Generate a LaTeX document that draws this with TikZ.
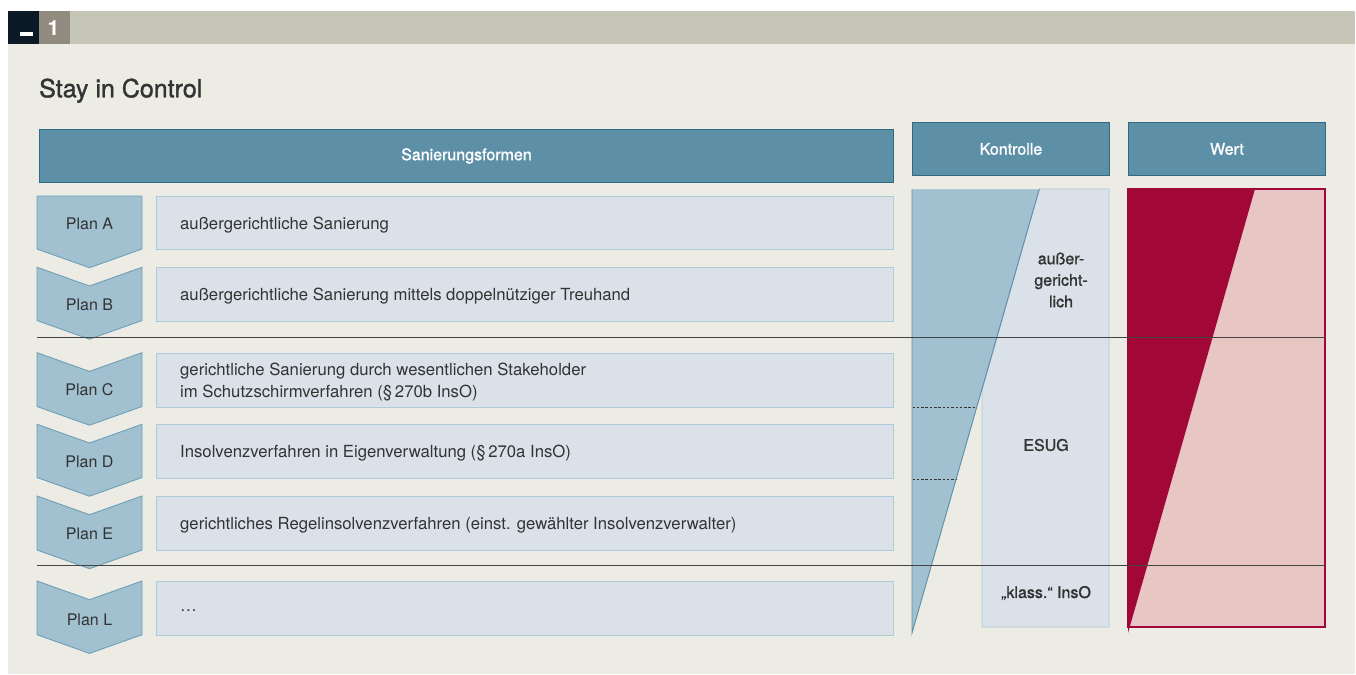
\documentclass[tikz,border=0pt]{standalone}
\usepackage{fontspec}
\setmainfont{TeX Gyre Heros}
\newfontfamily\medfont[FakeBold=1.3]{TeX Gyre Heros}
\definecolor{pagebg}{HTML}{ECEBE4}
\definecolor{topbar}{HTML}{C5C5B8}
\definecolor{navy}{HTML}{0C1A27}
\definecolor{numgray}{HTML}{918A7F}
\definecolor{headfill}{HTML}{5D90A7}
\definecolor{headline}{HTML}{2F6A84}
\definecolor{boxfill}{HTML}{DAE1E8}
\definecolor{boxline}{HTML}{AFCAD8}
\definecolor{chevfill}{HTML}{A1C1D1}
\definecolor{chevline}{HTML}{6F9FB7}
\definecolor{trifill}{HTML}{A1C1D1}
\definecolor{triline}{HTML}{5A8FA8}
\definecolor{crimson}{HTML}{A10838}
\definecolor{pinkfill}{HTML}{E8C6C3}
\definecolor{txt}{HTML}{333333}
\definecolor{sep}{HTML}{444444}
\tikzset{
  headbox/.style={draw=headline, fill=headfill, line width=0.9pt, inner sep=0pt,
    text=white, font=\medfont\fontsize{16}{18}\selectfont},
  rowbox/.style={draw=boxline, fill=boxfill, line width=0.9pt, inner sep=0pt,
    minimum width=737pt, anchor=north west},
  chevstyle/.style={draw=chevline, fill=chevfill, line width=0.9pt},
  planlabel/.style={text=txt, font=\fontsize{16}{18}\selectfont, inner sep=0pt},
  rowtext/.style={text=txt, font=\fontsize{16.7}{21.7}\selectfont, align=left,
    inner sep=0pt, anchor=west, xshift=24pt, yshift=-2pt},
  sidetext/.style={text=txt, font=\medfont\fontsize{16}{21.5}\selectfont,
    align=center, inner sep=0pt},
  sepline/.style={draw=sep, line width=1.2pt},
  dotline/.style={draw=txt, line width=0.9pt, dash pattern=on 2.5pt off 1.8pt},
}
% one row: letter, top, bottom, notch depth, label y, description
\newcommand\planrow[6]{%
  \path[chevstyle] (37,#2) -- (89.5,{#2+#4}) -- (142,#2) -- (142,#3)
    -- (89.5,{#3+18.7}) -- (37,#3) -- cycle;
  \node[planlabel] (plan#1) at (89.5,#5) {Plan #1};
  \node[rowbox, minimum height={#3-#2}] (box#1) at (156,#2) {};
  \node[rowtext] (desc#1) at (box#1.west) {#6};
}
\begin{document}
\begin{tikzpicture}[x=1pt,y=-1pt]
\useasboundingbox (0,0) rectangle (1356,674);
\fill[white] (0,0) rectangle (1356,674);
% page background and top bar
\fill[pagebg] (8,44) rectangle (1355,674);
\fill[topbar] (8,11) rectangle (1355,44);
\fill[navy] (8,11) rectangle (39,44);
\fill[numgray] (39,11) rectangle (70,44);
\fill[white] (20,32.3) rectangle (33,35.7);
\node[text=white, font=\bfseries\fontsize{21}{22}\selectfont, inner sep=0pt, anchor=base]
  (num) at (53.5,35.5) {1};
% title
\node[text=txt, font=\medfont\fontsize{25}{27}\selectfont, inner sep=0pt, anchor=base west]
  (title) at (39,97.3) {Stay in Control};
% column headers
\node[headbox, minimum width=854pt, minimum height=53pt, anchor=north west] (hsan) at (39,129) {Sanierungsformen};
\node[headbox, minimum width=197pt, minimum height=53pt, anchor=north west] (hkon) at (912,122) {Kontrolle};
\node[headbox, minimum width=197pt, minimum height=53pt, anchor=north west] (hwert) at (1128,122) {Wert};
% rows
\planrow{A}{196}{249}{0}{224}{außergerichtliche Sanierung}
\planrow{B}{267.3}{320.5}{18.7}{305}{außergerichtliche Sanierung mittels doppelnütziger Treuhand}
\planrow{C}{352.7}{406.5}{18.7}{390}{gerichtliche Sanierung durch wesentlichen Stakeholder\\im Schutzschirmverfahren (§\,270b InsO)}
\planrow{D}{424.3}{477.5}{18.7}{462}{Insolvenzverfahren in Eigenverwaltung (§\,270a InsO)}
\planrow{E}{496}{550}{18.7}{534}{gerichtliches Regelinsolvenzverfahren (einst. gewählter Insolvenzverwalter)}
\planrow{L}{581}{634.7}{18.7}{620}{\dots}
% control panel
\coordinate (k1) at (912,189);
\coordinate (k2) at (1039.3,189);
\coordinate (k3) at (912,633);
\path[draw=boxline, fill=boxfill, line width=0.9pt]
  (k2) -- (1109,189) -- (1109,627) -- (982,627) -- (982,390.5) -- cycle;
\fill[trifill] (k1) -- (k2) -- (k3) -- cycle;
\draw[boxline, line width=0.9pt] (k1) -- (k2);
\draw[triline, line width=0.9pt] (k2) -- (k3) -- (k1);
\draw[dotline] (912.5,407.7) -- (976.6,407.7);
\draw[dotline] (912.5,479.3) -- (956.1,479.3);
\node[sidetext] (kaus) at (1061,280) {außer-\\gericht-\\lich};
\node[sidetext] (kesug) at (1046,445) {ESUG};
\node[sidetext] (kins) at (1046,593) {„klass.“ InsO};
% value panel
\path[draw=crimson, fill=pinkfill, line width=1.2pt] (1128,189) rectangle (1325,627);
\fill[crimson] (1128,189) -- (1255,189) -- (1128,633) -- cycle;
% separators
\coordinate (s1a) at (37,337.5);
\coordinate (s1b) at (1325,337.5);
\coordinate (s2a) at (37,565.7);
\coordinate (s2b) at (1325,565.7);
\draw[sepline] (s1a) -- (s1b);
\draw[sepline] (s2a) -- (s2b);
\end{tikzpicture}
\end{document}
